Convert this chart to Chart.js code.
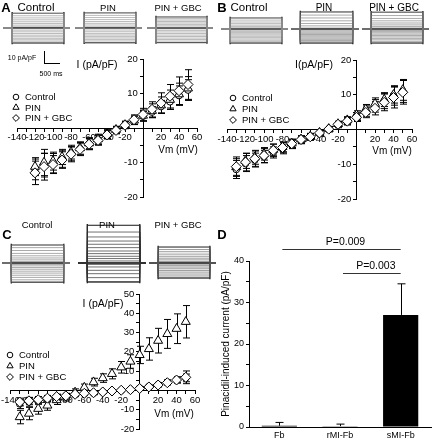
<!DOCTYPE html>
<html><head><meta charset="utf-8">
<script src="https://cdn.jsdelivr.net/npm/chart.js@4.4.1/dist/chart.umd.min.js"></script>
<style>
html,body{margin:0;padding:0;background:#fff;}
#root{position:relative;width:432px;height:440px;overflow:hidden;font-family:"Liberation Sans",Arial,Helvetica,sans-serif;color:#000;background:#fff;}
canvas{position:absolute;}
.t{position:absolute;white-space:nowrap;transform:translate(-50%,-50%);line-height:1;}
.sb{position:absolute;border-left:1px solid #000;border-bottom:1px solid #000;}
</style></head><body><div id="root"></div>
<script>
// ---------------- DATA ----------------
// Panel A (I-V), membrane potential (mV)
const vmA = [-120,-110,-100,-90,-80,-70,-60,-50,-40,-30,-20,-10,0,10,20,30,40,50];
const ctrlA = [-12.0,-10.8,-10.2,-9.0,-7.5,-6.0,-4.6,-3.4,-1.8,-0.6,1.0,2.3,3.4,4.6,6.2,7.6,9.4,11.0];
const ctrlAErr = [3.0,3.4,2.8,2.4,2.0,1.8,1.6,1.4,1.2,1.0,1.0,1.2,1.4,1.6,1.8,2.2,2.8,3.0];
const pinA = [-11.2,-10.0,-9.6,-8.4,-7.0,-5.8,-4.4,-3.2,-1.7,-0.5,0.9,2.2,3.6,5.0,6.6,8.2,9.8,11.5];
const pinAErr = [2.6,3.8,2.6,2.2,2.0,1.8,1.6,1.4,1.2,1.0,1.0,1.2,1.6,2.0,2.4,2.8,3.2,3.4];
const gbcA = [-13.0,-11.2,-10.6,-9.3,-7.6,-6.2,-4.7,-3.6,-2.0,-0.7,0.8,2.4,3.9,5.4,7.2,9.2,10.8,12.6];
const gbcAErr = [3.4,3.9,2.6,2.4,2.2,1.8,1.6,1.4,1.2,1.0,1.0,1.4,1.8,2.2,3.0,3.4,4.0,4.3];

// Panel B (I-V)
const vmB = [-130,-120,-110,-100,-90,-80,-70,-60,-50,-40,-30,-20,-10,0,10,20,30,40,50];
const ctrlB = [-11.5,-9.8,-8.8,-7.8,-6.6,-5.6,-4.3,-3.1,-2.2,-1.1,0.0,1.3,2.3,3.8,5.3,6.8,8.2,9.8,11.0];
const ctrlBErr = [2.6,2.3,2.0,1.8,1.6,1.4,1.2,1.0,0.9,0.8,0.7,0.8,1.0,1.2,1.5,1.8,2.2,2.8,3.2];
const pinB = [-10.8,-9.0,-8.0,-7.0,-5.8,-5.0,-4.0,-2.8,-2.0,-0.9,0.2,1.6,2.7,4.2,5.8,7.4,8.6,10.0,11.4];
const pinBErr = [2.4,2.2,2.0,1.8,1.6,1.4,1.2,1.0,0.9,0.8,0.7,0.8,1.0,1.2,1.4,1.7,2.0,2.4,3.0];
const gbcB = [-10.7,-9.4,-8.4,-7.5,-6.0,-5.2,-4.1,-2.9,-2.1,-1.0,0.1,1.5,2.4,3.5,4.9,6.1,7.8,9.2,10.7];
const gbcBErr = [2.8,2.5,2.2,2.0,1.8,1.5,1.3,1.1,0.9,0.8,0.7,0.8,1.0,1.2,1.5,1.9,2.4,3.0,3.4];

// Panel C (I-V)
const vmC = [-130,-120,-110,-100,-90,-80,-70,-60,-50,-40,-30,-20,-10,0,10,20,30,40,50];
const ctrlC = [-7.0,-6.0,-5.2,-4.3,-3.4,-3.0,-2.2,-1.7,-1.4,-0.9,-0.3,0.0,0.3,1.2,2.0,3.0,4.3,5.5,6.5];
const ctrlCErr = [2.4,2.2,2.0,1.6,1.4,1.2,1.0,0.9,0.8,0.7,0.6,0.6,0.6,0.7,0.8,1.0,1.2,1.5,2.0];
const pinC = [-13.8,-12.0,-9.5,-7.8,-5.0,-3.5,-1.0,1.5,4.3,6.4,8.6,12.0,15.0,18.4,21.5,25.8,29.3,32.0,35.6];
const pinCErr = [3.5,3.2,2.8,2.5,2.3,2.0,1.8,1.8,2.0,2.2,2.6,3.0,3.5,4.5,5.8,6.4,7.5,7.7,8.4];
const gbcC = [-6.0,-5.4,-4.8,-4.0,-3.2,-2.8,-2.0,-1.5,-1.2,-0.8,-0.3,0.1,0.4,1.0,1.8,2.8,4.0,5.4,6.8];
const gbcCErr = [2.0,1.8,1.6,1.4,1.2,1.0,0.9,0.8,0.7,0.6,0.6,0.6,0.6,0.7,0.8,1.0,1.2,1.6,3.3];

// Current traces: steady current level of each sweep (pA/pF)
const STEP_ON = 300, STEP_OFF = 2000, SWEEP_END = 2200; // ms
const traceACtrl = [-12.5,-11,-9.8,-8.6,-7.3,-6,-4.6,-3.2,-1.8,-0.5,1,2.4,3.8,5.2,6.8,8.4,10.2,12.3];
const traceAPin  = [-12.3,-10.8,-9.5,-8.3,-7,-5.8,-4.5,-3.1,-1.7,-0.4,1,2.5,3.9,5.4,7,8.7,10.5,12.6];
const traceAGbc  = [-12.2,-10.9,-9.6,-8.4,-7.1,-5.9,-4.6,-3.3,-2,-0.7,0.6,1.8,3,4.2,5.4,6.6,7.8,9.2];
const traceBCtrl = [-11.7,-10.5,-9.4,-8.3,-7.2,-6.1,-5,-4,-3,-2,-1,0,1,2,3.2,4.5,5.8,7.4,9.2];
const traceBPin  = [-11.7,-10.6,-9.6,-8.6,-7.6,-6.6,-5.6,-4.6,-3.6,-2.6,-1.6,-0.6,0.8,2.6,4.6,6.8,9.2,11.6,14.2];
const traceBGbc  = [-11.7,-10.3,-9,-7.8,-6.6,-5.4,-4.3,-3.2,-2.2,-1.2,-0.2,0.8,2,3.4,5,6.8,8.8,11.2,14];
const traceCCtrl = [-16,-14,-12,-10.2,-8.4,-6.8,-5.2,-3.8,-2.4,-1.2,0,1.2,2.6,4.2,6,8,10.4,12.8,15];
const traceCPin  = [-15.8,-12.2,-8.9,-6.1,-3.3,-1.2,1.7,3.7,5.6,7.8,10,12.8,15.6,18.3,21.7,25.8,31.4];
const traceCGbc  = [-12.5,-10.8,-9.2,-7.6,-6.2,-4.8,-3.4,-2.2,-1,0,1.2,2.6,4,5.6,7.4,9.4,11.2,13.3];

// Panel D (bar chart)
const groupsD = ['Fb','rMI-Fb','sMI-Fb'];
const meansD = [0.3,0.2,27.0];
const errD = [0.8,0.5,7.5];
const pValues = [{from:0,to:2,label:'P=0.009'},{from:1,to:2,label:'P=0.003'}];

const seriesNames = ['Control','PIN','PIN + GBC'];

// ---------------- SETUP ----------------
const FONT = '"Liberation Sans", Arial, Helvetica, sans-serif';
Chart.defaults.font.family = FONT;
Chart.defaults.color = '#000';
const root = document.getElementById('root');

function addCanvas(l, t, w, h) {
  const c = document.createElement('canvas');
  c.width = w; c.height = h;
  c.style.left = l + 'px'; c.style.top = t + 'px';
  c.style.width = w + 'px'; c.style.height = h + 'px';
  root.appendChild(c);
  return c;
}
function addText(txt, x, y, font) {
  const d = document.createElement('div');
  d.className = 't'; d.textContent = txt;
  d.style.left = x + 'px'; d.style.top = y + 'px'; d.style.font = font + ' ' + FONT;
  root.appendChild(d);
}

// ---------------- TRACES ----------------
function traceChart(rect, levels, yMin, yMax, color, lw) {
  const c = addCanvas(rect[0], rect[1], rect[2] - rect[0], rect[3] - rect[1]);
  const datasets = levels.map(L => ({
    data: [{x:0,y:0},{x:STEP_ON,y:0},{x:STEP_ON,y:L},{x:STEP_OFF,y:L},{x:STEP_OFF,y:0},{x:SWEEP_END,y:0}],
    borderColor: color, borderWidth: lw, pointRadius: 0, tension: 0, fill: false
  }));
  const lo = Math.min(...levels), hi = Math.max(...levels);
  datasets.push({data:[{x:STEP_ON,y:lo},{x:STEP_OFF,y:lo}], borderColor:'#000', borderWidth:1, pointRadius:0});
  datasets.push({data:[{x:STEP_ON,y:hi},{x:STEP_OFF,y:hi}], borderColor:'#222', borderWidth:0.8, pointRadius:0});
  datasets.push({data:[{x:STEP_ON,y:lo - 1},{x:STEP_ON,y:hi + 1}], borderColor:'#000', borderWidth:1.2, pointRadius:0});
  datasets.push({data:[{x:STEP_OFF,y:lo - 1},{x:STEP_OFF,y:hi + 1}], borderColor:'#000', borderWidth:1.2, pointRadius:0});
  datasets.push({data:[{x:0,y:0},{x:SWEEP_END,y:0}], borderColor:'#000', borderWidth:1.6, pointRadius:0});
  new Chart(c, {
    type: 'line',
    data: {datasets},
    options: {
      responsive:false, animation:false, devicePixelRatio:1,
      layout:{padding:0},
      plugins:{legend:{display:false}, tooltip:{enabled:false}},
      scales:{x:{type:'linear', display:false, min:0, max:SWEEP_END}, y:{display:false, min:yMin, max:yMax}},
      datasets:{line:{clip:false}}
    }
  });
}
// row 1: baseline ~28px, 1.2 px per pA/pF
traceChart([3,4,70,52], traceACtrl, -20, 20, '#8c8c8c', 0.6);
traceChart([75,4,142,52], traceAPin, -20, 20, '#8c8c8c', 0.6);
traceChart([147,4,213,52], traceAGbc, -20, 20, '#8c8c8c', 0.6);
traceChart([221,5,288,53], traceBCtrl, -20, 20, '#8c8c8c', 0.6);
traceChart([291,5,359,53], traceBPin, -20, 20, '#707070', 0.6);
traceChart([362,5,429,53], traceBGbc, -20, 20, '#707070', 0.6);
traceChart([2,215,70,287], traceCCtrl, -20, 40, '#707070', 0.6);
traceChart([78,215,146,287], traceCPin, -20, 40, '#333', 0.7);
traceChart([149,215,216,287], traceCGbc, -20, 40, '#555', 0.6);

// ---------------- PLUGINS ----------------
const errorBarPlugin = {
  id: 'ivErrors',
  beforeDatasetsDraw(chart) {
    const ctx = chart.ctx, ys = chart.scales.y;
    chart.data.datasets.forEach((ds, di) => {
      if (!ds.errors) return;
      const meta = chart.getDatasetMeta(di);
      ctx.save(); ctx.strokeStyle = '#000'; ctx.lineWidth = 1;
      meta.data.forEach((el, i) => {
        const v = ds.data[i].y, e = ds.errors[i];
        const x = Math.round(el.x) + 0.5;
        const y1 = ys.getPixelForValue(v + e), y2 = ys.getPixelForValue(v - e);
        ctx.beginPath();
        ctx.moveTo(x, y1); ctx.lineTo(x, y2);
        ctx.moveTo(x - 3.5, y1); ctx.lineTo(x + 3.5, y1);
        ctx.moveTo(x - 3.5, y2); ctx.lineTo(x + 3.5, y2);
        ctx.stroke();
      });
      ctx.restore();
    });
  }
};
function drawMarker(ctx, style, x, y, r) {
  ctx.beginPath();
  if (style === 'circle') ctx.arc(x, y, r, 0, Math.PI * 2);
  else if (style === 'triangle') { ctx.moveTo(x, y - r); ctx.lineTo(x + r * 0.866, y + r * 0.5); ctx.lineTo(x - r * 0.866, y + r * 0.5); ctx.closePath(); }
  else { ctx.moveTo(x, y - r); ctx.lineTo(x + r, y); ctx.lineTo(x, y + r); ctx.lineTo(x - r, y); ctx.closePath(); }
  ctx.fillStyle = '#fff'; ctx.fill(); ctx.strokeStyle = '#000'; ctx.lineWidth = 1; ctx.stroke();
}
const legendPlugin = {
  id: 'ivLegend',
  afterDraw(chart, args, opts) {
    if (!opts || !opts.items) return;
    const ctx = chart.ctx;
    ctx.save();
    opts.items.forEach((it, i) => {
      const y = opts.y + i * opts.dy;
      drawMarker(ctx, it.style, opts.x, y, it.r);
      ctx.fillStyle = '#000'; ctx.font = '9.5px ' + FONT; ctx.textBaseline = 'middle'; ctx.textAlign = 'left';
      ctx.fillText(it.label, opts.x + 9, y + 0.5);
    });
    ctx.restore();
  }
};

// ---------------- I-V CHARTS ----------------
function ivChart(area, xr, yr, vm, sets, legend) {
  const c = addCanvas(0, 0, 432, 440);
  const styles = ['circle','triangle','rectRot'];
  const radii = [3.3, 5.2, 5];
  const orders = [2, 1, 0];
  const datasets = sets.map((s, k) => ({
    label: seriesNames[k],
    data: vm.map((v, i) => ({x: v, y: s.mean[i]})),
    errors: s.err,
    pointStyle: styles[k], pointRadius: radii[k], pointBorderWidth: 1,
    pointBackgroundColor: '#fff', pointBorderColor: '#000',
    showLine: false, order: orders[s.order !== undefined ? s.order : k]
  }));
  const tickFont = {size: 9.5, family: FONT};
  new Chart(c, {
    type: 'scatter',
    data: {datasets},
    options: {
      responsive:false, animation:false, devicePixelRatio:1,
      layout:{padding:{left:area[0], top:area[1], right:432 - area[2], bottom:440 - area[3]}},
      plugins:{legend:{display:false}, tooltip:{enabled:false}, ivLegend: legend},
      scales:{
        x:{type:'linear', min:xr[0], max:xr[1], position:{y:0},
           afterFit: s => { s.height = 0; },
           ticks:{stepSize:10, autoSkip:false, maxRotation:0, font:tickFont, color:'#000', padding:1,
                  callback: v => (v !== 0 && v % 20 === 0) ? String(v) : ''},
           grid:{drawOnChartArea:false, color:'#000', tickLength:3, lineWidth:1},
           border:{color:'#000', width:1}},
        y:{type:'linear', min:yr[0], max:yr[1], position:{x:0},
           afterFit: s => { s.width = 0; },
           ticks:{stepSize:5, autoSkip:false, font:tickFont, color:'#000', padding:2,
                  callback: v => (v !== 0 && v % 10 === 0) ? String(v) + '  ' : ''},
           grid:{drawOnChartArea:false, color:'#000', tickLength:3, lineWidth:1},
           border:{color:'#000', width:1}}
      }
    },
    plugins:[errorBarPlugin, legendPlugin]
  });
}
const legItems = [
  {style:'circle', r:2.8, label:'Control'},
  {style:'triangle', r:3.6, label:'PIN'},
  {style:'diamond', r:3.4, label:'PIN + GBC'}
];
ivChart([17,59,197,197], [-140,60], [-20,20], vmA,
  [{mean:ctrlA, err:ctrlAErr},{mean:pinA, err:pinAErr},{mean:gbcA, err:gbcAErr}],
  {items:legItems, x:16, y:97, dy:10.5});
ivChart([227,60,412,199], [-140,60], [-20,20], vmB,
  [{mean:ctrlB, err:ctrlBErr},{mean:pinB, err:pinBErr},{mean:gbcB, err:gbcBErr}],
  {items:legItems, x:233, y:98, dy:11});
ivChart([5,294,195,429], [-140,60], [-20,50], vmC,
  [{mean:ctrlC, err:ctrlCErr},{mean:pinC, err:pinCErr},{mean:gbcC, err:gbcCErr}],
  {items:legItems, x:10, y:355, dy:11});

// ---------------- BAR CHART D ----------------
const barErrPlugin = {
  id: 'barErr',
  afterDatasetsDraw(chart) {
    const ctx = chart.ctx, ys = chart.scales.y, xs = chart.scales.x;
    const meta = chart.getDatasetMeta(0);
    ctx.save(); ctx.strokeStyle = '#000'; ctx.lineWidth = 1;
    meta.data.forEach((el, i) => {
      const x = Math.round(el.x) + 0.5;
      const yTop = ys.getPixelForValue(meansD[i] + errD[i]);
      const yV = ys.getPixelForValue(meansD[i]);
      ctx.beginPath(); ctx.moveTo(x, yV); ctx.lineTo(x, yTop);
      ctx.moveTo(x - 4, yTop); ctx.lineTo(x + 4, yTop); ctx.stroke();
    });
    // significance brackets
    ctx.strokeStyle = '#333'; ctx.fillStyle = '#000';
    ctx.font = '10.5px ' + FONT; ctx.textAlign = 'center'; ctx.textBaseline = 'bottom';
    const levels = [43, 37.2];
    pValues.forEach((p, k) => {
      const x1 = xs.getPixelForValue(p.from) + 3, x2 = xs.getPixelForValue(p.to);
      const y = Math.round(ys.getPixelForValue(levels[k])) + 0.5;
      ctx.beginPath(); ctx.moveTo(x1, y); ctx.lineTo(x2, y); ctx.stroke();
      ctx.fillText(p.label, (x1 + x2) / 2 + 4, y - 2);
    });
    ctx.restore();
  }
};
{
  const c = addCanvas(0, 0, 432, 440);
  new Chart(c, {
    type: 'bar',
    data: {labels: groupsD, datasets: [{data: meansD, backgroundColor:'#000', borderWidth:0,
      barPercentage:0.58, categoryPercentage:1}]},
    options: {
      responsive:false, animation:false, devicePixelRatio:1,
      layout:{padding:{left:220, top:261, right:1, bottom:0}},
      plugins:{legend:{display:false}, tooltip:{enabled:false}},
      scales:{
        x:{position:'bottom', afterFit: s => { s.height = 13; },
           ticks:{font:{size:9, family:FONT}, color:'#000', padding:3, maxRotation:0},
           grid:{display:true, drawOnChartArea:false, drawTicks:false},
           border:{color:'#000', width:1}},
        y:{position:'left', min:0, max:40, afterFit: s => { s.width = 29; },
           ticks:{stepSize:5, autoSkip:false, font:{size:9, family:FONT}, color:'#000', padding:2,
                  callback: v => (v % 10 === 0) ? String(v) : ''},
           grid:{drawOnChartArea:false, color:'#000', tickLength:3},
           border:{color:'#000', width:1},
           title:{display:true, text:'Pinacidil-induced current (pA/pF)', font:{size:10, family:FONT}, color:'#000', padding:0}}
      }
    },
    plugins:[barErrPlugin]
  });
}

// ---------------- TEXT ----------------
addText('A', 6, 7, 'bold 13px');
addText('Control', 36, 7, '11.5px');
addText('PIN', 108, 7, '9.5px');
addText('PIN + GBC', 178, 7, '9.5px');
addText('B', 222, 7, 'bold 13px');
addText('Control', 249, 7, '11.5px');
addText('PIN', 324, 7, '10px');
addText('PIN + GBC', 394, 7, '10px');
addText('C', 7, 234, 'bold 13px');
addText('Control', 37, 224, '9.5px');
addText('PIN', 107, 224, '9.5px');
addText('PIN + GBC', 178, 224, '9.5px');
addText('D', 222, 234, 'bold 13px');
addText('I (pA/pF)', 97, 64, '10.5px');
addText('I(pA/pF)', 314, 64, '10.5px');
addText('I (pA/pF)', 103, 303, '10.5px');
addText('Vm (mV)', 178, 149, '10px');
addText('Vm (mV)', 392, 150, '10px');
addText('Vm (mV)', 174, 413, '10px');
addText('10 pA/pF', 22, 57, '7px');
addText('500 ms', 51, 73, '7px');
{
  const sb = document.createElement('div');
  sb.className = 'sb';
  sb.style.left = '44px'; sb.style.top = '51px'; sb.style.width = '15px'; sb.style.height = '12px';
  root.appendChild(sb);
}
</script>
</body></html>
